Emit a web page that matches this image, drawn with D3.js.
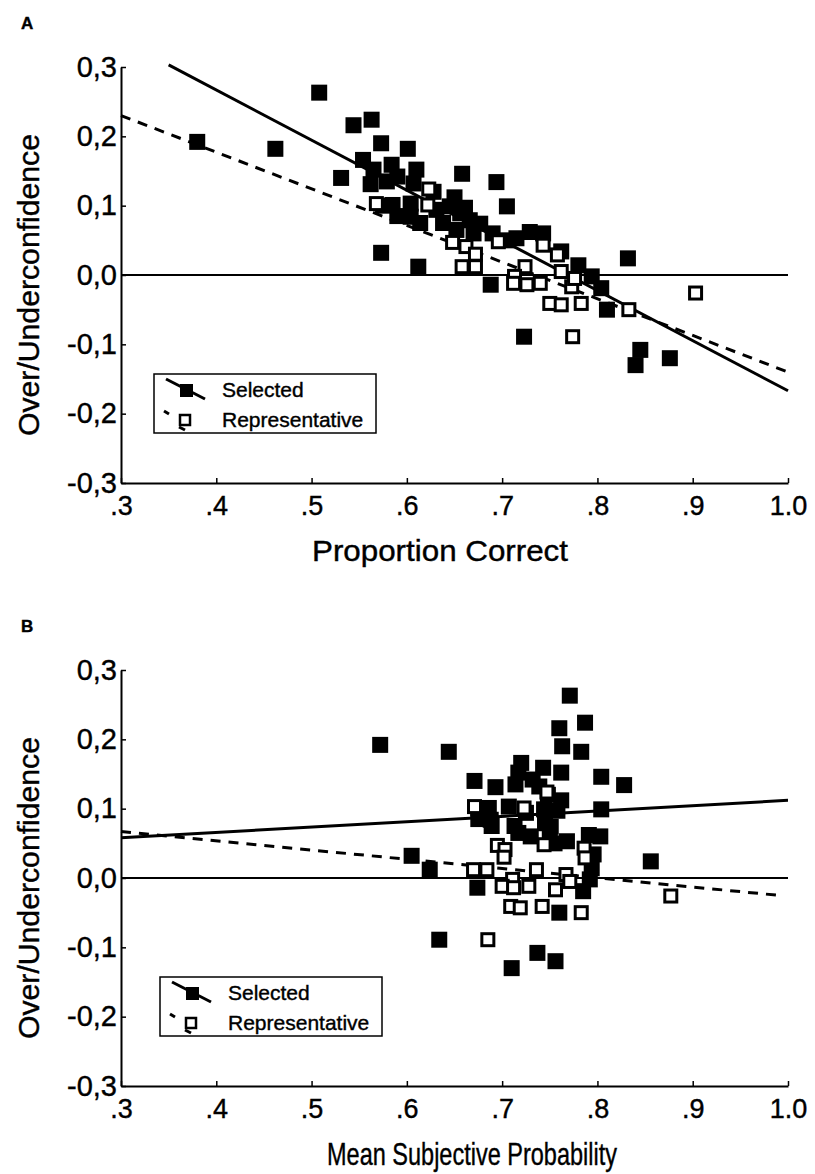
<!DOCTYPE html>
<html>
<head>
<meta charset="utf-8">
<script src="https://cdn.jsdelivr.net/npm/d3@7"></script>
<style>
  body { margin: 0; background: #fff; }
  text { font-family: "Liberation Sans", Arial, sans-serif; fill: #000; stroke: #000; stroke-width: 0.4px; }
</style>
</head>
<body>
<svg id="chart" width="815" height="1174"></svg>
<script>
// selected studies (filled squares)
let selectedPC = [0.380, 0.462, 0.508, 0.531, 0.544, 0.563, 0.573, 0.601, 0.554, 0.565,
  0.584, 0.610, 0.562, 0.579, 0.590, 0.607, 0.585, 0.604, 0.604, 0.628,
  0.573, 0.612, 0.658, 0.694, 0.705, 0.688, 0.723, 0.832, 0.810, 0.845,
  0.840, 0.876, 0.631, 0.645, 0.656, 0.666, 0.638, 0.652, 0.670, 0.614,
  0.729, 0.743, 0.762, 0.780, 0.794, 0.804, 0.715, 0.705, 0.650, 0.661,
  0.677, 0.690, 0.575, 0.590];
let selectedOU = [0.192, 0.182, 0.263, 0.140, 0.216, 0.224, 0.190, 0.182, 0.166, 0.152,
  0.159, 0.152, 0.131, 0.135, 0.142, 0.132, 0.101, 0.103, 0.084, 0.120,
  0.032, 0.012, 0.146, 0.134, 0.099, -0.014, -0.089, 0.024, -0.050, -0.108,
  -0.130, -0.120, 0.094, 0.099, 0.089, 0.079, 0.075, 0.065, 0.060, 0.075,
  0.062, 0.060, 0.034, 0.014, -0.002, -0.019, 0.053, 0.050, 0.112, 0.097,
  0.074, 0.060, 0.100, 0.085];
let selectedMSP = [0.572, 0.644, 0.771, 0.671, 0.760, 0.787, 0.763, 0.783, 0.720, 0.717,
  0.743, 0.762, 0.693, 0.714, 0.732, 0.739, 0.686, 0.707, 0.688, 0.748,
  0.605, 0.624, 0.804, 0.828, 0.804, 0.674, 0.634, 0.856, 0.760, 0.737,
  0.710, 0.756, 0.725, 0.744, 0.745, 0.745, 0.713, 0.717, 0.730, 0.689,
  0.791, 0.803, 0.796, 0.794, 0.792, 0.785, 0.768, 0.755, 0.762, 0.758,
  0.751, 0.750, 0.675, 0.675];

// representative studies (open squares)
let representativePC = [0.568, 0.623, 0.622, 0.648, 0.662, 0.658, 0.672, 0.696, 0.743, 0.758,
  0.724, 0.713, 0.712, 0.726, 0.740, 0.762, 0.773, 0.750, 0.762, 0.783,
  0.776, 0.774, 0.833, 0.903, 0.672];
let representativeOU = [0.103, 0.124, 0.101, 0.047, 0.041, 0.012, 0.012, 0.048, 0.043, 0.029,
  0.012, -0.002, -0.012, -0.014, -0.012, 0.005, -0.017, -0.041, -0.043, -0.041,
  -0.005, -0.089, -0.050, -0.026, 0.030];
let representativeMSP = [0.671, 0.747, 0.723, 0.695, 0.703, 0.670, 0.684, 0.744, 0.786, 0.787,
  0.736, 0.711, 0.700, 0.712, 0.728, 0.767, 0.756, 0.709, 0.719, 0.742,
  0.771, 0.685, 0.783, 0.877, 0.702];

// regression lines (end points)
let selectedFitA = [{x: 0.35, y: 0.303}, {x: 1.0, y: -0.167}];
let representativeFitA = [{x: 0.30, y: 0.230}, {x: 1.0, y: -0.140}];
let selectedFitB = [{x: 0.30, y: 0.058}, {x: 1.0, y: 0.112}];
let representativeFitB = [{x: 0.30, y: 0.067}, {x: 0.99, y: -0.025}];

let xTicks = [0.3, 0.4, 0.5, 0.6, 0.7, 0.8, 0.9, 1.0];
let yTicks = [-0.3, -0.2, -0.1, 0.0, 0.1, 0.2, 0.3];
let legendLabels = ["Selected", "Representative"];

let svg = d3.select("#chart");

let x = d3.scaleLinear().domain([0.3, 1.0]).range([121, 788]);

function fmtY(v) {
  let s = Math.abs(v).toFixed(1).replace(".", ",");
  return (v < -0.0001 ? "-" : "") + s;
}
function fmtX(v) {
  return v >= 0.999 ? "1.0" : v.toFixed(1).replace(/^0/, "");
}

function drawPanel(top, letter, title, selX, selY, repX, repY, selFit, repFit, legendDx, titleX, titleLen, titleSize, titleY) {
  let g = svg.append("g").attr("transform", "translate(0," + top + ")");
  let y = d3.scaleLinear().domain([-0.3, 0.3]).range([483, 67]);

  g.append("text").attr("x", 21).attr("y", 29)
    .style("font-size", "17px").style("font-weight", "bold").text(letter);

  // axes
  let yAxis = g.append("g").attr("transform", "translate(" + x(0.3) + ",0)")
    .call(d3.axisLeft(y).tickValues(yTicks).tickFormat(fmtY).tickSize(-5).tickSizeOuter(0).tickPadding(4));
  let xAxis = g.append("g").attr("transform", "translate(0," + y(-0.3) + ")")
    .call(d3.axisBottom(x).tickValues(xTicks).tickFormat(fmtX).tickSize(-5).tickSizeOuter(0).tickPadding(13));
  [yAxis, xAxis].forEach(function(a) {
    a.select(".domain").attr("stroke", "#000").attr("stroke-width", 2);
    a.selectAll(".tick line").attr("stroke", "#000").attr("stroke-width", 1.5);
    a.selectAll("text").attr("fill", "#000");
  });
  yAxis.selectAll("text").style("font-size", "29px");
  xAxis.selectAll("text").style("font-size", "27px");

  // zero line
  g.append("line")
    .attr("x1", x(0.3)).attr("x2", x(1.0))
    .attr("y1", y(0)).attr("y2", y(0))
    .attr("stroke", "#000").attr("stroke-width", 2);

  let line = d3.line().x(function(d) { return x(d.x); }).y(function(d) { return y(d.y); });
  g.append("path").datum(selFit).attr("d", line)
    .attr("fill", "none").attr("stroke", "#000").attr("stroke-width", 3);
  g.append("path").datum(repFit).attr("d", line)
    .attr("fill", "none").attr("stroke", "#000").attr("stroke-width", 3)
    .attr("stroke-dasharray", "10,8");

  // filled squares first, open squares on top
  g.selectAll(".sel").data(selX).enter().append("rect")
    .attr("class", "sel")
    .attr("x", function(d) { return x(d) - 8; })
    .attr("y", function(d, i) { return y(selY[i]) - 8; })
    .attr("width", 16).attr("height", 16)
    .attr("fill", "#000");
  g.selectAll(".rep").data(repX).enter().append("rect")
    .attr("class", "rep")
    .attr("x", function(d) { return x(d) - 6; })
    .attr("y", function(d, i) { return y(repY[i]) - 6; })
    .attr("width", 12).attr("height", 12)
    .attr("fill", "#fff").attr("stroke", "#000").attr("stroke-width", 3);

  // axis titles
  g.append("text")
    .attr("transform", "translate(39," + 285 + ") rotate(-90)")
    .attr("text-anchor", "middle")
    .attr("textLength", 302).attr("lengthAdjust", "spacingAndGlyphs")
    .style("font-size", "30px")
    .text("Over/Underconfidence");
  g.append("text")
    .attr("x", titleX).attr("y", titleY)
    .attr("text-anchor", "middle")
    .attr("textLength", titleLen).attr("lengthAdjust", "spacingAndGlyphs")
    .style("font-size", titleSize + "px")
    .text(title);

  // legend
  let lg = g.append("g").attr("transform", "translate(" + legendDx + ",0)");
  lg.append("rect").attr("x", 154).attr("y", 374).attr("width", 222).attr("height", 59)
    .attr("fill", "#fff").attr("stroke", "#000").attr("stroke-width", 1.5);
  lg.append("line").attr("x1", 166).attr("y1", 379).attr("x2", 205).attr("y2", 399)
    .attr("stroke", "#000").attr("stroke-width", 3);
  lg.append("rect").attr("x", 180).attr("y", 384).attr("width", 13).attr("height", 13).attr("fill", "#000");
  lg.append("line").attr("x1", 164).attr("y1", 411).attr("x2", 169).attr("y2", 414)
    .attr("stroke", "#000").attr("stroke-width", 3);
  lg.append("line").attr("x1", 179).attr("y1", 427).attr("x2", 185).attr("y2", 430)
    .attr("stroke", "#000").attr("stroke-width", 3);
  lg.append("rect").attr("x", 180).attr("y", 415).attr("width", 10).attr("height", 10)
    .attr("fill", "#fff").attr("stroke", "#000").attr("stroke-width", 2.5);
  lg.selectAll(".lt").data(legendLabels).enter().append("text")
    .attr("x", 222).attr("y", function(d, i) { return 397 + i * 30; })
    .style("font-size", "21px")
    .text(function(d) { return d; });
}

drawPanel(0, "A", "Proportion Correct", selectedPC, selectedOU, representativePC, representativeOU,
  selectedFitA, representativeFitA, 0, 440, 256, 29, 561);
drawPanel(603, "B", "Mean Subjective Probability", selectedMSP, selectedOU, representativeMSP, representativeOU,
  selectedFitB, representativeFitB, 6, 472, 290, 32, 562);
</script>
</body>
</html>
